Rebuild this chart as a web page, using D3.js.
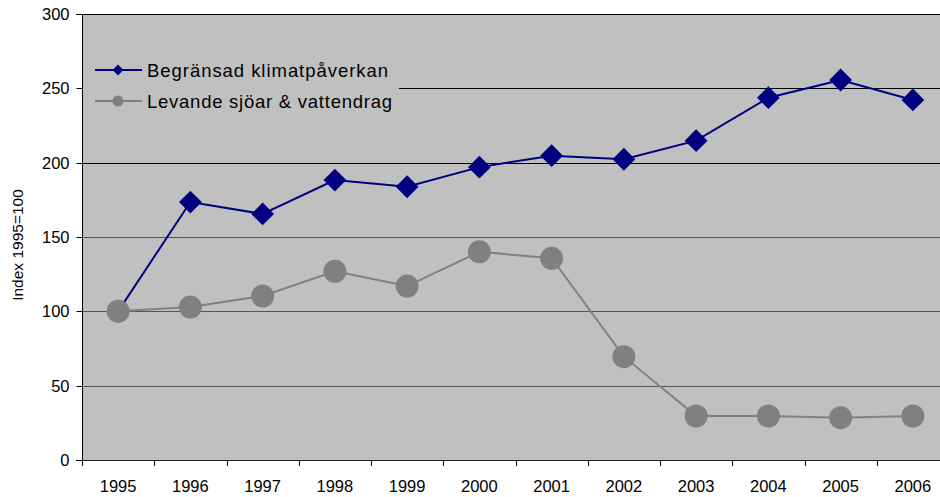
<!DOCTYPE html>
<html><head><meta charset="utf-8">
<script src="https://cdn.jsdelivr.net/npm/d3@7"></script>
<style>body{margin:0;background:#fff}svg{display:block;font-family:"Liberation Sans",Arial,sans-serif}</style>
</head><body><svg id="c" width="940" height="497"></svg>
<script>
const years = ["1995","1996","1997","1998","1999","2000","2001","2002","2003","2004","2005","2006"];
const klimat = [100,173.5,165.5,188.3,183.8,197,204.7,202.3,214.8,243.7,255.6,242.2];
const sjoar = [100,102.9,110.3,126.9,117,140,135.7,69.5,29.6,29.6,28.5,29.6];
const yTicks = [0,50,100,150,200,250,300];
const seriesNames = ["Begränsad klimatpåverkan","Levande sjöar & vattendrag"];
const yTitle = "Index 1995=100";

const svg = d3.select("#c");
const L=82, T=14, B=460, R=949;
const x = d3.scaleBand().domain(years).range([L,R]);
const y = d3.scaleLinear().domain([0,300]).range([B,T]);
const cx = d => x(d)+x.bandwidth()/2;

svg.append("rect").attr("x",L).attr("y",T).attr("width",R-L).attr("height",B-T).attr("fill","#c0c0c0");
// gridlines
svg.append("g").selectAll("line").data(yTicks.filter(v=>v>0)).join("line")
  .attr("x1",L).attr("x2",R).attr("y1",d=>Math.round(y(d))+0.5).attr("y2",d=>Math.round(y(d))+0.5)
  .attr("stroke",d=>d>=200?"#000":"#555").attr("stroke-width",1);

// legend background
const lg = svg.append("g");
lg.append("rect").attr("x",L+1).attr("y",52).attr("width",316).attr("height",66).attr("fill","#c0c0c0");

// y axis
const ya = svg.append("g").attr("transform",`translate(${L},0)`)
  .call(d3.axisLeft(y).tickValues(yTicks).tickSize(6).tickPadding(7).tickFormat(d3.format("d")));
ya.select(".domain").attr("stroke","#000");
ya.selectAll("line").attr("stroke","#000");
ya.selectAll("text").attr("font-size",16.5).attr("fill","#000").attr("font-family","Liberation Sans, Arial, sans-serif");
ya.selectAll(".tick").attr("transform",d=>`translate(0.5,${Math.round(y(d))+0.5})`);

// x axis
const xa = svg.append("g").attr("transform",`translate(0,${B})`)
  .call(d3.axisBottom(x).tickSize(0).tickPadding(20));
xa.select(".domain").attr("stroke","#222");
xa.selectAll("text").attr("font-size",16.5).attr("fill","#000").attr("font-family","Liberation Sans, Arial, sans-serif");
svg.append("g").selectAll("line").data(d3.range(years.length+1)).join("line")
  .attr("x1",i=>Math.round(L+i*x.bandwidth())+0.5).attr("x2",i=>Math.round(L+i*x.bandwidth())+0.5)
  .attr("y1",B).attr("y2",B+6).attr("stroke","#000");

// top border
svg.append("line").attr("x1",L).attr("x2",R).attr("y1",T+0.5).attr("y2",T+0.5).attr("stroke","#000");

// y title
svg.append("text").attr("transform",`translate(23,${(T+B)/2+8}) rotate(-90)`)
  .attr("text-anchor","middle").attr("font-size",15.5).text(yTitle);

const line = d3.line().x((d,i)=>cx(years[i])).y(d=>y(d));
svg.append("path").datum(klimat).attr("d",line).attr("fill","none").attr("stroke","#000080").attr("stroke-width",2);
const dia = d3.symbol().type(d3.symbolSquare).size(260);
svg.append("g").selectAll("path").data(klimat).join("path")
  .attr("d",dia).attr("transform",(d,i)=>`translate(${cx(years[i])},${y(d)}) rotate(45)`).attr("fill","#000080");
svg.append("path").datum(sjoar).attr("d",line).attr("fill","none").attr("stroke","#808080").attr("stroke-width",2);
svg.append("g").selectAll("circle").data(sjoar).join("circle")
  .attr("cx",(d,i)=>cx(years[i])).attr("cy",d=>y(d)).attr("r",11.5).attr("fill","#808080");

const cols = ["#000080","#808080"];
seriesNames.forEach((n,i)=>{
  const yy = 70 + i*31;
  lg.append("line").attr("x1",95).attr("x2",142).attr("y1",yy).attr("y2",yy).attr("stroke",cols[i]).attr("stroke-width",2);
  if(i===0) lg.append("path").attr("d",d3.symbol().type(d3.symbolSquare).size(60)).attr("transform",`translate(118,${yy}) rotate(45)`).attr("fill",cols[i]);
  else lg.append("circle").attr("cx",118).attr("cy",yy).attr("r",5.5).attr("fill",cols[i]);
  lg.append("text").attr("x",147).attr("y",yy+6.5).attr("font-size",18.5).attr("textLength",i===0?241:245).attr("lengthAdjust","spacing").text(n);
});
</script></body></html>
